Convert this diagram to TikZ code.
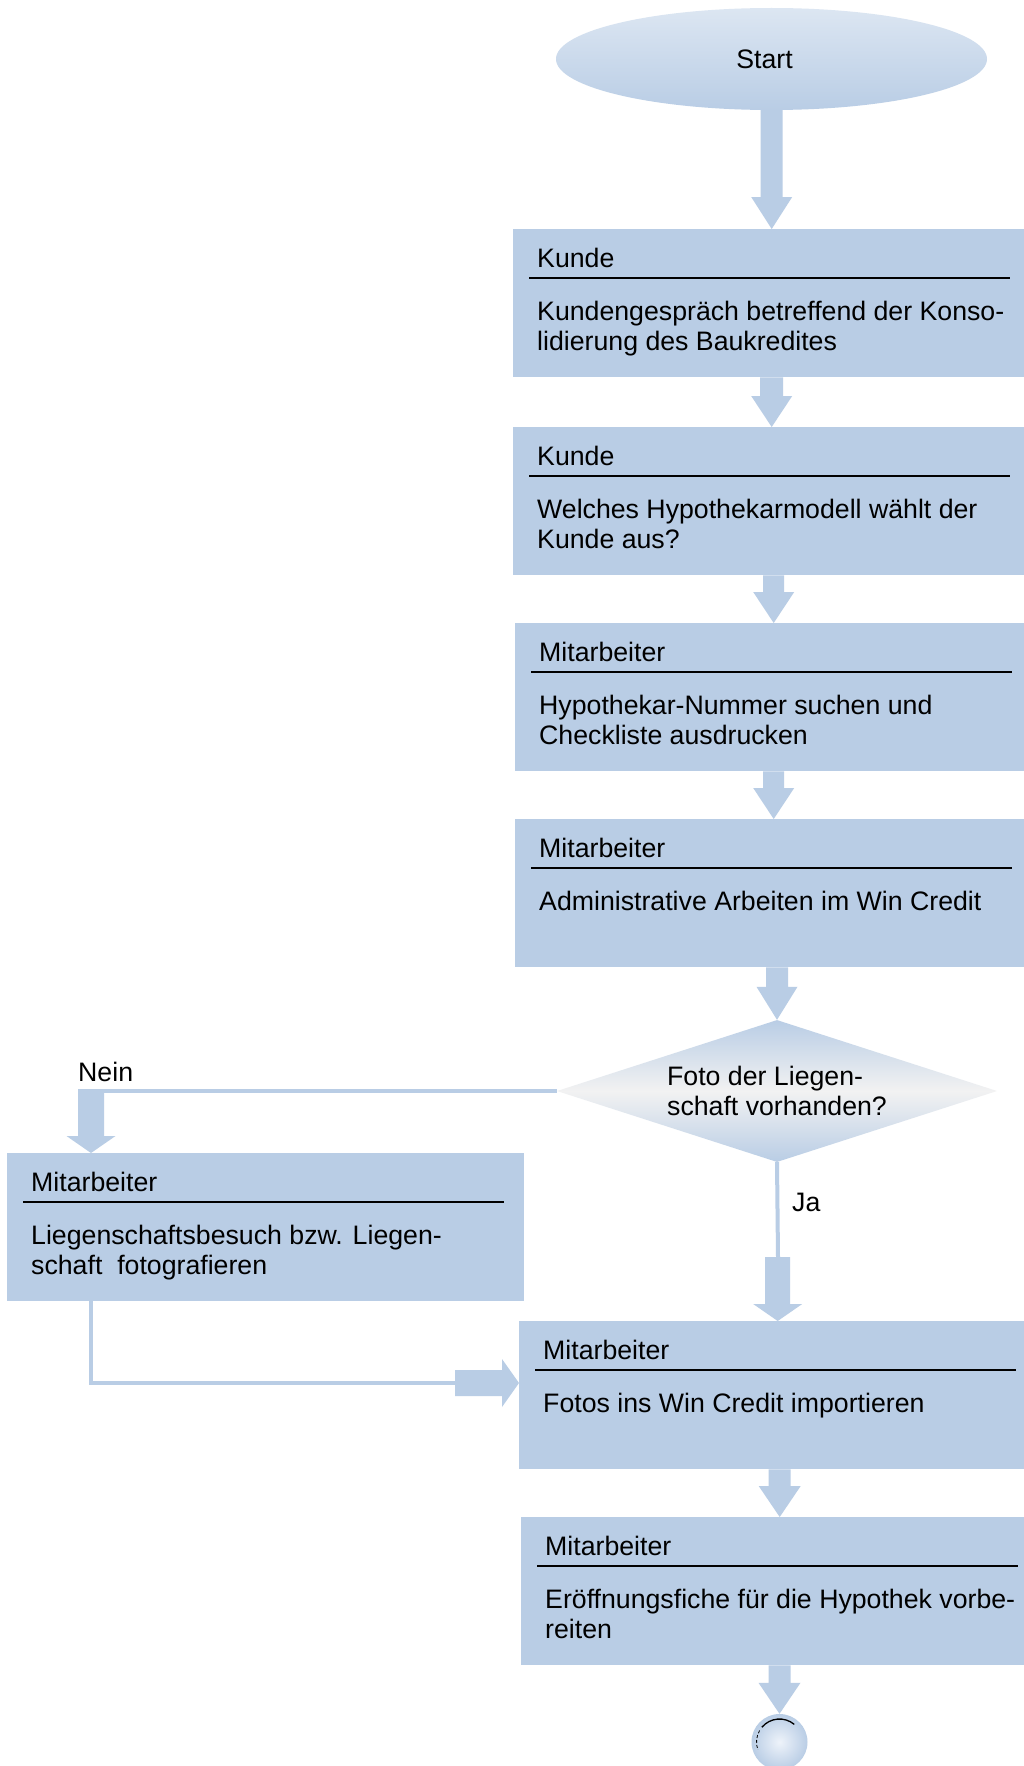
\documentclass[tikz,border=0pt]{standalone}
\usepackage{fontspec}
\setmainfont{Liberation Sans}
\usetikzlibrary{shapes.geometric,calc}
\definecolor{boxblue}{HTML}{B9CDE5}
\definecolor{lightgrad}{HTML}{DCE6F2}
\definecolor{midgray}{HTML}{F2F2F2}
\definecolor{endinner}{HTML}{EEF3FA}
% vertical block arrow: from, to, shaft half width, head half width, head length
\newcommand{\varrow}[5]{\fill[boxblue] let \p1=(#1), \p2=(#2) in
  (\x2-#3pt,\y1) -- (\x2+#3pt,\y1) -- (\x2+#3pt,\y2+#5pt) -- (\x2+#4pt,\y2+#5pt)
  -- (\x2,\y2) -- (\x2-#4pt,\y2+#5pt) -- (\x2-#3pt,\y2+#5pt) -- cycle;}
% horizontal block arrow (to the right)
\newcommand{\harrow}[5]{\fill[boxblue] let \p1=(#1), \p2=(#2) in
  (\x1,\y1+#3pt) -- (\x2-#5pt,\y1+#3pt) -- (\x2-#5pt,\y1+#4pt) -- (\x2,\y1)
  -- (\x2-#5pt,\y1-#4pt) -- (\x2-#5pt,\y1-#3pt) -- (\x1,\y1-#3pt) -- cycle;}
\tikzset{
  stepbox/.style={fill=boxblue, minimum width=517pt, minimum height=148pt, inner sep=0pt, anchor=north west},
  txt/.style={anchor=base west, inner sep=0pt, font=\fontsize{26.7}{30}\selectfont},
  sepline/.style={black, line width=1.6pt},
  conn/.style={draw=boxblue, line width=4pt},
}
\newcommand{\stepcontent}[3]{%
  \node[txt] (#1t) at ($(#1.north west)+(24,38)$) {#2};
  \draw[sepline] ($(#1.north west)+(16,49)$) -- ++(481,0);
  \node[txt] (#1b) at ($(#1.north west)+(24,91)$) {\parbox[t]{495pt}{\raggedright #3}};}
\begin{document}
\begin{tikzpicture}[x=1pt,y=-1pt]
\useasboundingbox (0,0) rectangle (1024,1766);
\clip (0,0) rectangle (1024,1766);
\fill[white] (0,0) rectangle (1024,1766);

% start
\node[ellipse, top color=lightgrad, bottom color=boxblue, minimum width=431pt, minimum height=102pt,
      inner sep=0pt, font=\fontsize{26.7}{30}\selectfont] (start) at (771.5,59) {\hspace*{-14pt}Start};

% boxes
\node[stepbox] (b1) at (513,229) {};
\node[stepbox] (b2) at (513,427) {};
\node[stepbox] (b3) at (515,623) {};
\node[stepbox] (b4) at (515,819) {};
\node[stepbox] (b5) at (7,1153) {};
\node[stepbox] (b6) at (519,1321) {};
\node[stepbox] (b7) at (521,1517) {};

\stepcontent{b1}{Kunde}{Kundengespräch betreffend der Konso-\\lidierung des Baukredites}
\stepcontent{b2}{Kunde}{Welches Hypothekarmodell wählt der\\Kunde aus?}
\stepcontent{b3}{Mitarbeiter}{Hypothekar-Nummer suchen und\\Checkliste ausdrucken}
\stepcontent{b4}{Mitarbeiter}{Administrative Arbeiten im Win Credit}
\stepcontent{b5}{Mitarbeiter}{Liegenschaftsbesuch bzw. Liegen-\\schaft\ \ fotografieren}
\stepcontent{b6}{Mitarbeiter}{Fotos ins Win Credit importieren}
\stepcontent{b7}{Mitarbeiter}{Eröffnungsfiche für die Hypothek vorbe-\\reiten}

% decision
\node[diamond, top color=boxblue, bottom color=boxblue, middle color=midgray,
      minimum width=440pt, minimum height=142pt, aspect=3.1, inner sep=0pt,
      align=left, font=\fontsize{26.7}{30}\selectfont] (d) at (777,1091)
      {Foto der Liegen-\\schaft vorhanden?};

% end
\node[circle, minimum size=56pt, inner sep=0pt, inner color=endinner, outer color=boxblue] (end) at (779.5,1742) {};
\draw[black, line width=1.3pt] ($(end.center)+(-50:23)$) arc (-50:-140:23);
\draw[black, line width=0.8pt, dash pattern=on 3pt off 2pt] ($(end.center)+(-150:23)$) arc (-150:-200:23);

% helper coordinates
\coordinate (neincorner) at (91,1091);
\coordinate (neintop) at (91,1089);
\coordinate (jamid) at (778,1257);
\coordinate (bcorner) at (91,1383);
\coordinate (hstart) at (455,1383);

% connectors
\varrow{start.south}{b1.north}{11}{20.5}{32}
\varrow{b1.south}{b2.north}{11.5}{20.5}{31}
\varrow{b2.south}{b3.north}{10.5}{20.5}{31}
\varrow{b3.south}{b4.north}{10.5}{20.5}{31}
\varrow{b4.south}{d.north}{11}{20.5}{33}
\varrow{b6.south}{b7.north}{11}{21}{31}
\varrow{b7.south}{end.north}{11}{21}{31}

\draw[conn] (d.west) -- (neincorner);
\varrow{neintop}{neincorner |- b5.north}{13}{24.5}{17}
\draw[conn] (d.south) -- (jamid);
\varrow{jamid}{b6.north}{12.5}{24.5}{17}
\draw[conn, line join=miter] (b5.south -| bcorner) -- (bcorner) -- (hstart);
\harrow{hstart}{b6.west}{13}{24}{17}

% labels
\node[txt] (nein) at (78,1081.7) {Nein};
\node[txt] (ja) at (792,1211.7) {Ja};
\end{tikzpicture}
\end{document}
